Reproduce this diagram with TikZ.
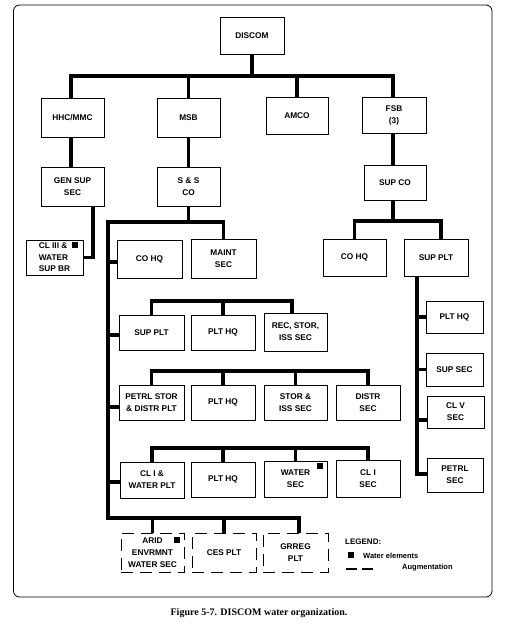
\documentclass[tikz,border=0pt]{standalone}
\usepackage{fontspec}
\setmainfont{Liberation Sans}
\newfontfamily\capfont{Liberation Serif}
\begin{document}
\begin{tikzpicture}[x=1pt,y=-1pt,
  box/.style={draw,line width=1pt,inner sep=0pt,align=center,font=\fontsize{8.3}{12}\selectfont\bfseries},
  abox/.style={box,dash pattern=on 12pt off 7pt},
  conn/.style={line width=3.4pt},
  sq/.style={fill=black,draw=none,minimum size=6pt,inner sep=0pt},
  legtext/.style={anchor=west,inner sep=0pt,font=\fontsize{7.5}{9}\selectfont\bfseries}]
\useasboundingbox (0,0) rectangle (504,624);
\draw[line width=0.8pt,rounded corners=6pt] (13.5,5) rectangle (492,597);

% boxes
\node[box,minimum width=64pt,minimum height=37pt] (discom) at (252,35.5) {DISCOM};
\node[box,minimum width=63pt,minimum height=39pt] (hhc) at (72.5,117.5) {HHC/MMC};
\node[box,minimum width=63pt,minimum height=39pt] (msb) at (188.5,117.5) {MSB};
\node[box,minimum width=62pt,minimum height=37pt] (amco) at (297,115.5) {AMCO};
\node[box,minimum width=64pt,minimum height=36pt] (fsb) at (394,115) {FSB\\(3)};
\node[box,minimum width=63pt,minimum height=39pt] (gensup) at (72.5,186.5) {GEN SUP\\SEC};
\node[box,minimum width=63pt,minimum height=39pt] (ssco) at (188.5,186.5) {S \& S\\CO};
\node[box,minimum width=62pt,minimum height=35pt] (supco) at (395,182.5) {SUP CO};
\node[box,minimum width=57pt,minimum height=35pt,align=left,font=\fontsize{8.3}{11.5}\selectfont\bfseries] (cliii) at (54.5,257.5) {CL III \&\\WATER\\SUP BR};
\node[box,minimum width=65pt,minimum height=38pt] (cohqa) at (149.5,259) {CO HQ};
\node[box,minimum width=65pt,minimum height=39pt] (maint) at (223.5,258.5) {MAINT\\SEC};
\node[box,minimum width=63pt,minimum height=37pt] (cohqb) at (354.5,257.5) {CO HQ};
\node[box,minimum width=64pt,minimum height=37pt] (supplta) at (436,257.5) {SUP PLT};

\node[box,minimum width=57pt,minimum height=32pt] (plthqr) at (454.5,317) {PLT HQ};
\node[box,minimum width=57pt,minimum height=33pt] (supsec) at (454.5,369.5) {SUP SEC};
\node[box,minimum width=57pt,minimum height=32pt] (clv) at (455.5,412) {CL V\\SEC};
\node[box,minimum width=56pt,minimum height=34pt] (petrlsec) at (455,475) {PETRL\\SEC};

\node[box,minimum width=65pt,minimum height=35pt] (suppltb) at (151.5,332.5) {SUP PLT};
\node[box,minimum width=64pt,minimum height=35pt] (plthqa) at (223,332.5) {PLT HQ};
\node[box,minimum width=63pt,minimum height=38pt] (rec) at (295.5,332) {REC, STOR,\\ISS SEC};

\node[box,minimum width=65pt,minimum height=35pt] (petrlstor) at (151.5,402.5) {PETRL STOR\\\& DISTR PLT};
\node[box,minimum width=64pt,minimum height=35pt] (plthqb) at (223,402.5) {PLT HQ};
\node[box,minimum width=63pt,minimum height=35pt] (stor) at (295.5,402.5) {STOR \&\\ISS SEC};
\node[box,minimum width=64pt,minimum height=35pt] (distr) at (368,402.5) {DISTR\\SEC};

\node[box,minimum width=64pt,minimum height=36pt] (cli) at (152,480) {CL I \&\\WATER PLT};
\node[box,minimum width=64pt,minimum height=35pt] (plthqc) at (223,479.5) {PLT HQ};
\node[box,minimum width=63pt,minimum height=36pt] (water) at (295.5,479) {WATER\\SEC};
\node[box,minimum width=64pt,minimum height=37pt] (clisec) at (368,478.5) {CL I\\SEC};

\node[abox,minimum width=63pt,minimum height=39pt] (arid) at (152.5,552.5) {ARID\\ENVRMNT\\WATER SEC};
\node[abox,minimum width=64pt,minimum height=39pt] (ces) at (224,552.5) {CES PLT};
\node[abox,minimum width=65pt,minimum height=39pt] (grreg) at (295.5,552.5) {GRREG\\PLT};

% water element squares
\node[sq] (sqa) at (75,245) {};
\node[sq] (sqb) at (320,466) {};
\node[sq] (sqc) at (177,540) {};

% connectors: top level
\coordinate (bus1) at (252,76);
\draw[conn] (discom.south) -- (bus1);
\draw[conn] ([xshift=-1.5pt]hhc.north) |- (bus1) -| ([xshift=-1pt]fsb.north);
\draw[conn] (msb.north) -- (msb.north |- bus1);
\draw[conn] (amco.north) -- (amco.north |- bus1);
\draw[conn] ([xshift=-1.5pt]hhc.south) -- ([xshift=-1.5pt]gensup.north);
\draw[conn] (msb.south) -- (ssco.north);
\draw[conn] ([xshift=-1pt]fsb.south) -- ([xshift=-2pt]supco.north);
\draw[conn] ([xshift=20.5pt]gensup.south) |- (cliii.east);

% MSB branch
\coordinate (spine) at (108,222);
\coordinate (spinebot) at (108,518);
\draw[conn] (ssco.south) -- (ssco.south |- spine);
\draw[conn] (maint.north) |- (spine) -- (spinebot) -| ([xshift=3.5pt]grreg.north);
\draw[conn] (arid.north) -- (arid.north |- spinebot);
\draw[conn] (ces.north) -- (ces.north |- spinebot);
\path ([yshift=-3pt]cohqa.west) coordinate (s1);
\draw[conn] (s1) -- (s1 -| spine);
\path ([yshift=-2.5pt]suppltb.west) coordinate (s2);
\draw[conn] (s2) -- (s2 -| spine);
\path ([yshift=-4.5pt]petrlstor.west) coordinate (s3);
\draw[conn] (s3) -- (s3 -| spine);
\path ([yshift=-2pt]cli.west) coordinate (s4);
\draw[conn] (s4) -- (s4 -| spine);

% row buses
\coordinate (r1) at (151.5,301);
\draw[conn] (suppltb.north) -- (r1) -| ([xshift=-3.5pt]rec.north);
\draw[conn] (plthqa.north) -- (plthqa.north |- r1);
\coordinate (r2) at (151.5,371);
\draw[conn] (petrlstor.north) -- (r2) -| (distr.north);
\draw[conn] (plthqb.north) -- (plthqb.north |- r2);
\draw[conn] (stor.north) -- (stor.north |- r2);
\coordinate (r3) at (152,448);
\draw[conn] (cli.north) -- (r3) -| (clisec.north);
\draw[conn] (plthqc.north) -- (plthqc.north |- r3);
\draw[conn] (water.north) -- (water.north |- r3);

% FSB branch
\coordinate (bus3) at (393,221);
\draw[conn] ([xshift=-2pt]supco.south) -- (bus3);
\draw[conn] (cohqb.north) |- (bus3) -| ([xshift=5pt]supplta.north);
\coordinate (rsp) at (417,474);
\draw[conn] ([xshift=-19pt]supplta.south) -- (rsp) -- (rsp -| petrlsec.west);
\draw[conn] (plthqr.west) -- (plthqr.west -| rsp);
\draw[conn] (supsec.west) -- (supsec.west -| rsp);
\path ([yshift=-8pt]clv.west) coordinate (s5);
\draw[conn] (s5) -- (s5 -| rsp);

% legend
\node[anchor=west,inner sep=0pt,font=\fontsize{8}{10}\selectfont\bfseries] (leg) at (345,542) {LEGEND:};
\node[sq] (sqd) at (351,555) {};
\node[legtext] (legw) at (363,555.5) {Water elements};
\coordinate (da) at (346,569);
\coordinate (db) at (373,569);
\draw[line width=1.2pt,dash pattern=on 11pt off 5pt] (da) -- (db);
\node[legtext] (lega) at (402,567.5) {Augmentation};

% caption
\node[font=\capfont\bfseries\fontsize{10}{12}\selectfont] (cap) at (259,613) {Figure 5-7. DISCOM water organization.};
\end{tikzpicture}
\end{document}
